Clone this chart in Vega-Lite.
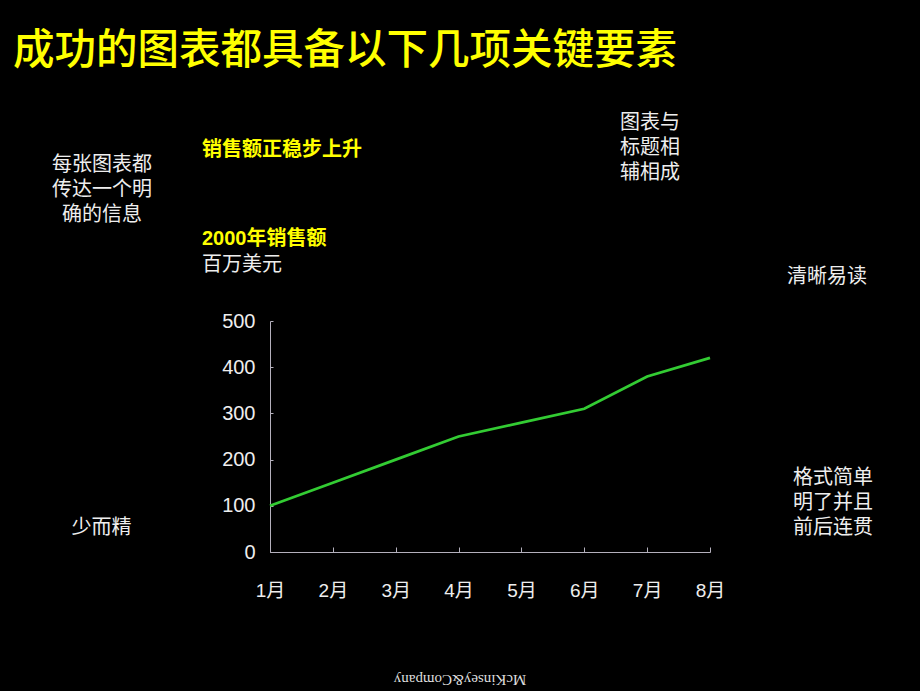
{
  "$schema": "https://vega.github.io/schema/vega-lite/v6.json",
  "autosize": "none",
  "width": 440,
  "height": 231,
  "padding": {"left": 270, "top": 321, "right": 210, "bottom": 139},
  "background": "#000000",
  "config": {"view": {"stroke": null}},
  "data": {"values": [
    {"month": 1, "sales": 100},
    {"month": 2, "sales": 150},
    {"month": 3, "sales": 200},
    {"month": 4, "sales": 250},
    {"month": 5, "sales": 280},
    {"month": 6, "sales": 310},
    {"month": 7, "sales": 380},
    {"month": 8, "sales": 420}
  ]},
  "layer": [
    {
      "mark": {"type": "line", "color": "#33cc33", "strokeWidth": 2.8},
      "encoding": {
        "x": {"field": "month", "type": "quantitative",
          "scale": {"domain": [1, 8], "nice": false, "zero": false},
          "axis": {"values": [1, 2, 3, 4, 5, 6, 7, 8], "labelExpr": "datum.value + '月'", "title": null, "grid": false,
            "domainColor": "#b4b0bc", "tickColor": "#b4b0bc", "tickSize": -5, "labelPadding": 34,
            "labelFont": "Liberation Sans, Noto Sans CJK SC", "labelFontSize": 19, "labelColor": "#eeeeee", "labelFlush": false, "labelOverlap": false}},
        "y": {"field": "sales", "type": "quantitative",
          "scale": {"domain": [0, 500], "nice": false, "zero": true},
          "axis": {"values": [0, 100, 200, 300, 400, 500], "title": null, "grid": false,
            "domainColor": "#b4b0bc", "tickColor": "#b4b0bc", "tickSize": -3, "labelPadding": 18,
            "labelFont": "Liberation Sans", "labelFontSize": 20, "labelColor": "#eeeeee", "labelFlush": false, "labelOverlap": false}}
      }
    },
    {
      "data": {"values": [{"label": "成功的图表都具备以下几项关键要素"}]},
      "mark": {"type": "text", "align": "left", "baseline": "middle", "font": "Noto Sans CJK SC", "fontSize": 41.5, "fontWeight": 500, "color": "#ffff00"},
      "encoding": {"text": {"field": "label"}, "x": {"datum": -3.09, "type": "quantitative"}, "y": {"datum": 1082, "type": "quantitative"}}
    },
    {
      "data": {"values": [{"label": "销售额正稳步上升"}]},
      "mark": {"type": "text", "align": "left", "baseline": "middle", "font": "Noto Sans CJK SC", "fontSize": 20, "fontWeight": "bold", "color": "#ffff00"},
      "encoding": {"text": {"field": "label"}, "x": {"datum": -0.082, "type": "quantitative"}, "y": {"datum": 870, "type": "quantitative"}}
    },
    {
      "data": {"values": [{"label": "2000年销售额"}]},
      "mark": {"type": "text", "align": "left", "baseline": "middle", "font": "Liberation Sans, Noto Sans CJK SC", "fontSize": 20, "fontWeight": "bold", "color": "#ffff00"},
      "encoding": {"text": {"field": "label"}, "x": {"datum": -0.082, "type": "quantitative"}, "y": {"datum": 677, "type": "quantitative"}}
    },
    {
      "data": {"values": [{"label": "百万美元"}]},
      "mark": {"type": "text", "align": "left", "baseline": "middle", "font": "Noto Sans CJK SC", "fontSize": 20, "color": "#eeeeee"},
      "encoding": {"text": {"field": "label"}, "x": {"datum": -0.082, "type": "quantitative"}, "y": {"datum": 621, "type": "quantitative"}}
    },
    {
      "data": {"values": [{"label": "每张图表都\n传达一个明\n确的信息"}]},
      "mark": {"type": "text", "align": "center", "baseline": "middle", "lineBreak": "\n", "lineHeight": 25, "font": "Noto Sans CJK SC", "fontSize": 20, "color": "#eeeeee"},
      "encoding": {"text": {"field": "label"}, "x": {"datum": -1.673, "type": "quantitative"}, "y": {"datum": 837.7, "type": "quantitative"}}
    },
    {
      "data": {"values": [{"label": "图表与\n标题相\n辅相成"}]},
      "mark": {"type": "text", "align": "center", "baseline": "middle", "lineBreak": "\n", "lineHeight": 25, "font": "Noto Sans CJK SC", "fontSize": 20, "color": "#eeeeee"},
      "encoding": {"text": {"field": "label"}, "x": {"datum": 7.045, "type": "quantitative"}, "y": {"datum": 928.6, "type": "quantitative"}}
    },
    {
      "data": {"values": [{"label": "清晰易读"}]},
      "mark": {"type": "text", "align": "center", "baseline": "middle", "font": "Noto Sans CJK SC", "fontSize": 20, "color": "#eeeeee"},
      "encoding": {"text": {"field": "label"}, "x": {"datum": 9.861, "type": "quantitative"}, "y": {"datum": 595.2, "type": "quantitative"}}
    },
    {
      "data": {"values": [{"label": "格式简单\n明了并且\n前后连贯"}]},
      "mark": {"type": "text", "align": "center", "baseline": "middle", "lineBreak": "\n", "lineHeight": 25, "font": "Noto Sans CJK SC", "fontSize": 20, "color": "#eeeeee"},
      "encoding": {"text": {"field": "label"}, "x": {"datum": 9.957, "type": "quantitative"}, "y": {"datum": 160.2, "type": "quantitative"}}
    },
    {
      "data": {"values": [{"label": "少而精"}]},
      "mark": {"type": "text", "align": "center", "baseline": "middle", "font": "Noto Sans CJK SC", "fontSize": 20, "color": "#eeeeee"},
      "encoding": {"text": {"field": "label"}, "x": {"datum": -1.681, "type": "quantitative"}, "y": {"datum": 51.9, "type": "quantitative"}}
    },
    {
      "data": {"values": [{"label": "McKinsey&Company"}]},
      "mark": {"type": "text", "align": "center", "baseline": "middle", "angle": 180, "font": "Liberation Serif", "fontSize": 15, "color": "#dddddd"},
      "encoding": {"text": {"field": "label"}, "x": {"datum": 4.023, "type": "quantitative"}, "y": {"datum": -277, "type": "quantitative"}}
    }
  ]
}
